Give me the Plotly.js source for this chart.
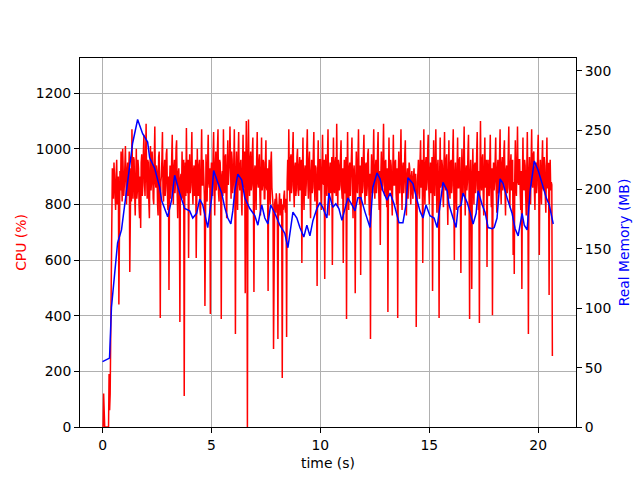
<!DOCTYPE html>
<html>
<head>
<meta charset="utf-8">
<script src="https://cdn.plot.ly/plotly-3.0.1.min.js"></script>
<style>html,body{margin:0;padding:0;background:#fff;}#chart{width:640px;height:480px;}</style>
</head>
<body>
<div id="chart"></div>
<script>
// CPU samples, one every cpuInterval seconds, starting at t = 0 (one row per second)
const cpuInterval = 0.025;
const cpuValues = [
  0,0,120,0,0,0,0,0,0,0,0,0,190,60,120,300,500,760,930,870,820,950,900,840,780,910,960,800,850,900,440,880,920,850,990,900,810,1000,940,830,
  870,940,1010,880,800,920,950,830,880,990,557,860,930,810,1070,900,820,970,960,840,760,890,1000,820,850,960,930,800,750,900,715,950,980,830,870,990,1050,880,830,960,
  1090,900,820,960,950,810,750,930,1010,850,880,990,940,820,800,960,1080,880,860,940,920,800,760,970,990,850,392,880,900,960,1060,840,810,920,960,830,870,980,1000,850,
  780,900,492,870,940,820,850,970,1050,860,800,930,960,840,880,1000,1030,850,750,910,930,860,377,890,910,820,990,870,820,960,111,880,950,830,1074,900,840,960,607,880,
  980,840,870,950,1060,860,800,920,940,830,890,960,607,880,1000,850,830,940,960,780,760,930,1070,870,870,960,920,830,435,900,980,840,810,950,1050,880,860,930,406,900,
  950,860,830,980,1060,880,760,930,990,850,880,1000,1070,840,810,960,950,870,388,900,920,830,1070,900,840,970,980,820,750,940,1030,870,900,960,1080,850,820,990,960,840,
  870,950,1070,860,334,900,990,840,780,970,1060,880,850,940,960,820,760,930,1050,860,880,990,481,900,1100,880,0,950,1105,900,830,960,990,850,870,980,1040,840,485,920,
  940,850,780,960,1060,880,860,950,980,830,760,920,1040,850,870,960,950,820,820,940,1030,860,850,930,489,900,960,840,800,950,990,860,830,800,280,790,800,820,770,840,
  820,780,316,800,790,840,760,810,820,770,176,800,780,830,850,790,770,820,323,880,960,850,1070,900,810,960,980,840,870,990,1060,860,790,930,950,830,860,970,1000,850,
  830,940,970,850,880,960,589,900,1040,860,780,920,940,830,870,990,1070,880,820,950,990,850,750,910,960,840,860,980,1060,870,810,940,930,850,507,900,1030,860,850,960,
  960,850,780,930,1050,880,870,960,532,900,980,850,830,960,1070,870,760,920,950,840,860,970,582,900,1040,860,840,950,970,830,1090,900,790,960,940,850,870,980,1030,860,
  820,930,589,880,960,840,850,970,388,900,1060,860,780,930,950,830,880,990,1040,850,750,920,940,850,481,890,990,860,840,960,1070,880,800,940,546,890,970,840,870,980,
  1050,860,800,940,950,830,860,980,1000,850,760,910,316,880,980,850,840,960,1070,870,820,930,960,840,880,990,1060,860,780,920,654,900,990,850,870,970,1090,880,830,950,
  960,840,790,930,413,880,1040,860,850,960,940,830,760,920,1050,870,870,950,960,840,800,930,392,900,990,850,840,960,1070,870,780,930,950,840,880,980,1030,850,760,900,
  930,820,860,950,930,830,800,900,920,840,820,900,930,850,880,910,359,830,880,910,960,840,820,950,1030,860,870,960,589,900,1070,870,800,940,970,850,880,990,1050,860,
  800,920,950,840,860,970,489,880,1030,860,830,950,1070,880,770,930,960,840,392,900,1040,860,870,960,940,830,790,950,1060,870,850,960,980,840,726,900,1030,860,820,950,
  960,840,870,980,1070,860,600,900,950,830,780,930,1040,860,860,960,970,840,553,900,1000,860,830,950,1080,880,760,920,940,850,880,990,1050,860,388,900,960,850,496,900,
  1000,860,800,940,950,840,870,980,1060,860,780,920,374,900,1100,880,850,960,980,840,760,930,1040,860,870,960,575,900,960,840,830,950,1050,860,790,930,402,880,950,850,
  880,960,1040,850,770,920,960,840,850,970,1070,870,800,940,970,850,870,990,1030,850,760,920,940,840,860,980,1080,870,790,940,980,850,870,960,618,880,550,900,1030,860,
  830,950,1080,880,870,960,960,840,780,920,496,890,1040,860,850,960,940,830,760,920,1060,870,334,900,970,850,800,950,1070,870,860,980,990,850,780,930,950,840,870,980,
  1050,870,618,900,960,850,800,950,1030,860,850,970,940,830,770,920,1040,860,860,950,474,900,960,850,880,870,255
];

// Real memory readings
const memTime = [
  0,0.32,0.41,0.55,0.69,0.87,1.01,1.20,1.38,1.61,1.84,2.07,2.16,2.39,2.62,2.71,2.99,3.17,3.31,3.54,
  3.77,4.00,4.14,4.32,4.46,4.60,4.83,5.01,5.10,5.29,5.47,5.61,5.75,5.89,5.98,6.07,6.21,6.39,6.53,6.76,
  6.99,7.13,7.31,7.45,7.59,7.72,7.91,8.14,8.37,8.51,8.74,8.92,9.06,9.24,9.38,9.52,9.66,9.84,9.98,10.11,
  10.30,10.39,10.57,10.71,10.85,10.99,11.13,11.26,11.45,11.59,11.72,11.86,12.05,12.28,12.41,12.60,12.74,12.87,13.06,13.20,
  13.38,13.61,13.79,13.93,14.02,14.25,14.44,14.57,14.71,14.85,15.03,15.22,15.36,15.49,15.63,15.82,15.91,16.09,16.23,16.32,
  16.46,16.55,16.74,16.87,17.01,17.15,17.24,17.43,17.56,17.70,17.89,17.98,18.11,18.25,18.39,18.57,18.80,18.94,19.08,19.26,
  19.36,19.49,19.63,19.82,20.00,20.18,20.37,20.51,20.69
];
const memValues = [
  55,58,101,126,155,166,185,213,239,259,247,240,227,218,202,191,177,191,212,197,
  184,182,176,180,192,187,168,193,216,206,197,185,176,171,182,199,213,208,193,184,
  178,170,187,176,171,187,180,170,163,151,181,176,168,160,170,161,174,184,189,185,
  176,197,185,188,184,174,185,193,187,182,193,193,181,168,202,214,209,199,191,197,
  188,172,172,187,210,205,191,182,176,187,178,176,168,185,206,199,187,176,168,185,
  187,197,189,181,171,180,199,187,181,168,167,168,176,209,205,193,180,167,161,180,
  170,166,199,224,216,205,193,187,171
];

const xTicks = [0, 5, 10, 15, 20];
const cpuTicks = [0, 200, 400, 600, 800, 1000, 1200];
const memTicks = [0, 50, 100, 150, 200, 250, 300];

const cpuTime = cpuValues.map((_, i) => +(i * cpuInterval).toFixed(3));

const font = {family: 'DejaVu Sans', size: 13.9, color: '#000'};

const traces = [
  {x: cpuTime, y: cpuValues, type: 'scatter', mode: 'lines',
   line: {color: '#ff0000', width: 1.5}, yaxis: 'y', hoverinfo: 'skip'},
  {x: memTime, y: memValues, type: 'scatter', mode: 'lines',
   line: {color: '#0000ff', width: 1.5}, yaxis: 'y2', hoverinfo: 'skip'}
];

const layout = {
  width: 640, height: 480,
  margin: {l: 80, r: 64, t: 58, b: 53, pad: 0},
  paper_bgcolor: '#fff', plot_bgcolor: '#fff',
  showlegend: false,
  font: font,
  xaxis: {
    range: [-1.035, 21.735], tickvals: xTicks, ticktext: xTicks.map(String),
    showgrid: true, gridcolor: '#b0b0b0', gridwidth: 1, zeroline: false,
    showline: true, linecolor: '#000', linewidth: 1, mirror: true,
    ticks: 'outside', ticklen: 5, tickwidth: 1, tickcolor: '#000',
    tickfont: font,
    title: {text: 'time (s)', font: font, standoff: 6}
  },
  yaxis: {
    range: [0, 1326], tickvals: cpuTicks, ticktext: cpuTicks.map(String),
    showgrid: true, gridcolor: '#b0b0b0', gridwidth: 1, zeroline: false,
    showline: true, linecolor: '#000', linewidth: 1,
    ticks: 'outside', ticklen: 5, tickwidth: 1, tickcolor: '#000',
    tickfont: font,
    title: {text: 'CPU (%)', font: {family: 'DejaVu Sans', size: 13.9, color: '#ff0000'}, standoff: 5}
  },
  yaxis2: {
    range: [0, 310.8], tickvals: memTicks, ticktext: memTicks.map(String),
    overlaying: 'y', side: 'right', anchor: 'x',
    showgrid: false, zeroline: false,
    showline: true, linecolor: '#000', linewidth: 1,
    ticks: 'outside', ticklen: 5, tickwidth: 1, tickcolor: '#000',
    tickfont: font,
    title: {text: 'Real Memory (MB)', font: {family: 'DejaVu Sans', size: 13.9, color: '#0000ff'}, standoff: 8}
  }
};

Plotly.newPlot('chart', traces, layout, {staticPlot: true, displayModeBar: false});
</script>
</body>
</html>
